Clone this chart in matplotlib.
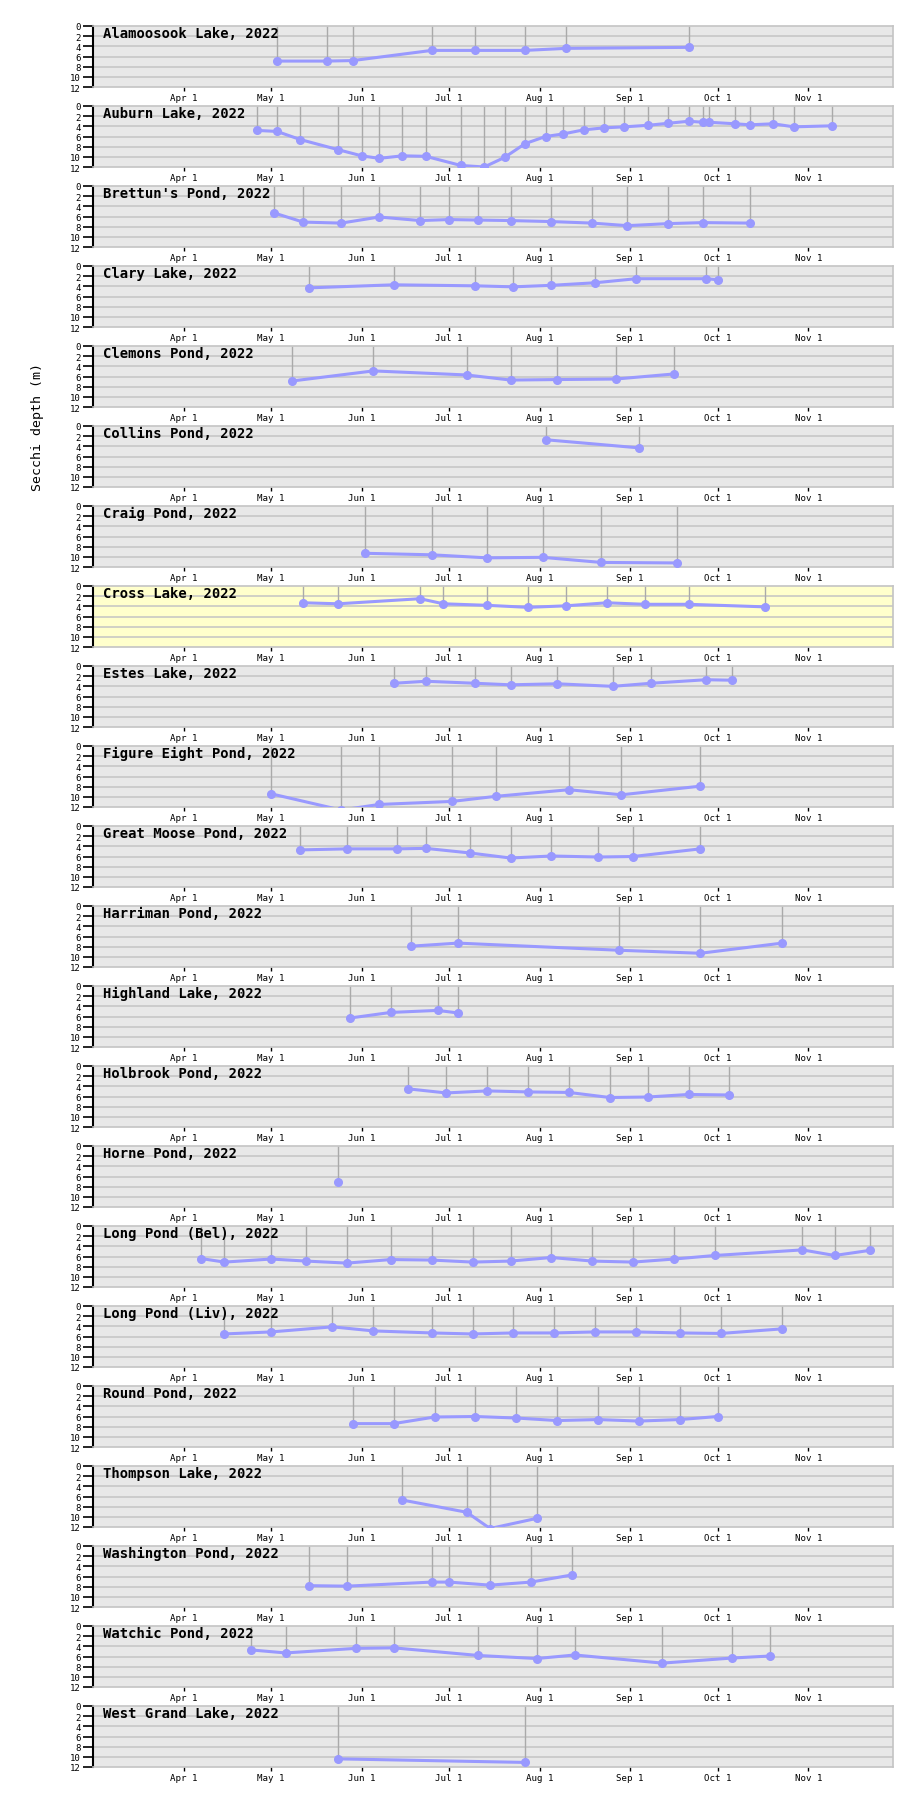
import matplotlib
matplotlib.use("Agg")
import matplotlib.pyplot as plt
import pandas as pd

# Secchi depth (m) readings, 2022, one list of dates + depths per lake
lakes = [
    "Alamoosook Lake", "Auburn Lake", "Brettun's Pond", "Clary Lake",
    "Clemons Pond", "Collins Pond", "Craig Pond", "Cross Lake", "Estes Lake",
    "Figure Eight Pond", "Great Moose Pond", "Harriman Pond", "Highland Lake",
    "Holbrook Pond", "Horne Pond", "Long Pond (Bel)", "Long Pond (Liv)",
    "Round Pond", "Thompson Lake", "Washington Pond", "Watchic Pond",
    "West Grand Lake",
]

alamoosook_dates = ["05-03", "05-20", "05-29", "06-25", "07-10", "07-27", "08-10", "09-21"]
alamoosook_depth = [6.9, 6.9, 6.8, 4.8, 4.8, 4.8, 4.4, 4.2]

auburn_dates = ["04-26", "05-03", "05-11", "05-24", "06-01", "06-07", "06-15", "06-23",
                "07-05", "07-13", "07-20", "07-27", "08-03", "08-09", "08-16", "08-23",
                "08-30", "09-07", "09-14", "09-21", "09-26", "09-28", "10-07", "10-12",
                "10-20", "10-27", "11-09"]
auburn_depth = [4.8, 5.0, 6.6, 8.6, 9.8, 10.3, 9.8, 9.9, 11.7, 12.0, 10.1, 7.4, 6.0, 5.5,
                4.7, 4.3, 4.1, 3.8, 3.4, 3.0, 3.2, 3.2, 3.5, 3.7, 3.5, 4.1, 3.9]

brettun_dates = ["05-02", "05-12", "05-25", "06-07", "06-21", "07-01", "07-11", "07-22",
                 "08-05", "08-19", "08-31", "09-14", "09-26", "10-12"]
brettun_depth = [5.3, 7.1, 7.3, 6.1, 6.8, 6.6, 6.7, 6.8, 7.0, 7.3, 7.8, 7.4, 7.2, 7.3]

clary_dates = ["05-14", "06-12", "07-10", "07-23", "08-05", "08-20", "09-03", "09-27", "10-01"]
clary_depth = [4.3, 3.7, 3.9, 4.1, 3.8, 3.3, 2.5, 2.5, 2.7]

clemons_dates = ["05-08", "06-05", "07-07", "07-22", "08-07", "08-27", "09-16"]
clemons_depth = [6.9, 4.9, 5.7, 6.7, 6.6, 6.5, 5.5]

collins_dates = ["08-03", "09-04"]
collins_depth = [2.7, 4.3]

craig_dates = ["06-02", "06-25", "07-14", "08-02", "08-22", "09-17"]
craig_depth = [9.3, 9.6, 10.2, 10.1, 11.1, 11.2]

cross_dates = ["05-12", "05-24", "06-21", "06-29", "07-14", "07-28", "08-10", "08-24",
               "09-06", "09-21", "10-17"]
cross_depth = [3.3, 3.5, 2.5, 3.5, 3.8, 4.2, 3.9, 3.3, 3.6, 3.6, 4.1]

estes_dates = ["06-12", "06-23", "07-10", "07-22", "08-07", "08-26", "09-08", "09-27", "10-06"]
estes_depth = [3.4, 3.0, 3.4, 3.7, 3.5, 4.0, 3.4, 2.7, 2.8]

figure8_dates = ["05-01", "05-25", "06-07", "07-02", "07-17", "08-11", "08-29", "09-25"]
figure8_depth = [9.4, 12.6, 11.5, 10.9, 9.9, 8.6, 9.6, 7.9]

greatmoose_dates = ["05-11", "05-27", "06-13", "06-23", "07-08", "07-22", "08-05", "08-21",
                    "09-02", "09-25"]
greatmoose_depth = [4.7, 4.5, 4.5, 4.4, 5.3, 6.3, 5.9, 6.1, 6.0, 4.5]

harriman_dates = ["06-18", "07-04", "08-28", "09-25", "10-23"]
harriman_depth = [7.9, 7.3, 8.7, 9.3, 7.3]

highland_dates = ["05-28", "06-11", "06-27", "07-04"]
highland_depth = [6.3, 5.2, 4.8, 5.3]

holbrook_dates = ["06-17", "06-30", "07-14", "07-28", "08-11", "08-25", "09-07", "09-21", "10-05"]
holbrook_depth = [4.5, 5.3, 4.9, 5.1, 5.2, 6.2, 6.1, 5.6, 5.7]

horne_dates = ["05-24"]
horne_depth = [7.0]

longbel_dates = ["04-07", "04-15", "05-01", "05-13", "05-27", "06-11", "06-25", "07-09",
                 "07-22", "08-05", "08-19", "09-02", "09-16", "09-30", "10-30", "11-10", "11-22"]
longbel_depth = [6.4, 7.1, 6.5, 6.9, 7.3, 6.6, 6.7, 7.1, 6.9, 6.2, 6.9, 7.1, 6.5, 5.8,
                 4.7, 5.8, 4.8]

longliv_dates = ["04-15", "05-01", "05-22", "06-05", "06-25", "07-09", "07-23", "08-06",
                 "08-20", "09-03", "09-18", "10-02", "10-23"]
longliv_depth = [5.5, 5.1, 4.1, 4.9, 5.3, 5.5, 5.3, 5.3, 5.1, 5.1, 5.3, 5.4, 4.5]

round_dates = ["05-29", "06-12", "06-26", "07-10", "07-24", "08-07", "08-21", "09-04",
               "09-18", "10-01"]
round_depth = [7.4, 7.4, 6.1, 6.0, 6.3, 6.8, 6.6, 6.9, 6.6, 6.0]

thompson_dates = ["06-15", "07-07", "07-15", "07-31"]
thompson_depth = [6.7, 9.1, 12.3, 10.3]

washington_dates = ["05-14", "05-27", "06-25", "07-01", "07-15", "07-29", "08-12"]
washington_depth = [7.8, 7.9, 7.1, 7.1, 7.7, 7.1, 5.7]

watchic_dates = ["04-24", "05-06", "05-30", "06-12", "07-11", "07-31", "08-13", "09-12",
                 "10-06", "10-19"]
watchic_depth = [4.7, 5.3, 4.4, 4.3, 5.8, 6.4, 5.7, 7.3, 6.3, 5.9]

westgrand_dates = ["05-24", "07-27"]
westgrand_depth = [10.4, 11.1]

all_dates = [alamoosook_dates, auburn_dates, brettun_dates, clary_dates, clemons_dates,
             collins_dates, craig_dates, cross_dates, estes_dates, figure8_dates,
             greatmoose_dates, harriman_dates, highland_dates, holbrook_dates, horne_dates,
             longbel_dates, longliv_dates, round_dates, thompson_dates, washington_dates,
             watchic_dates, westgrand_dates]
all_depths = [alamoosook_depth, auburn_depth, brettun_depth, clary_depth, clemons_depth,
              collins_depth, craig_depth, cross_depth, estes_depth, figure8_depth,
              greatmoose_depth, harriman_depth, highland_depth, holbrook_depth, horne_depth,
              longbel_depth, longliv_depth, round_depth, thompson_depth, washington_depth,
              watchic_depth, westgrand_depth]

highlight = "Cross Lake"
year = 2022
tick_dates = ["04-01", "05-01", "06-01", "07-01", "08-01", "09-01", "10-01", "11-01"]
tick_labels = ["Apr 1", "May 1", "Jun 1", "Jul 1", "Aug 1", "Sep 1", "Oct 1", "Nov 1"]
yticks = [0, 2, 4, 6, 8, 10, 12]

W, H = 912, 1799
fig = plt.figure(figsize=(W / 100, H / 100), dpi=100)

mono = "DejaVu Sans Mono"
x0 = pd.Timestamp(f"{year}-03-01")
x1 = pd.Timestamp(f"{year}-11-30")
ticks = pd.to_datetime([f"{year}-{d}" for d in tick_dates])

for i, name in enumerate(lakes):
    top = 27 + 80 * i
    ax = fig.add_axes([93 / W, 1 - (top + 61) / H, 800 / W, 61 / H])
    ax.set_facecolor("#ffffcc" if name == highlight else "#e8e8e8")

    d = pd.to_datetime([f"{year}-{s}" for s in all_dates[i]])
    v = all_depths[i]

    for y in yticks[1:-1]:
        ax.axhline(y, color="#c4c4c4", lw=1.1, zorder=1)
    ax.vlines(d, 0, v, color="#aaaaaa", lw=1, zorder=2)
    ax.plot(d, v, color="#9999ff", lw=2.2, marker="o", ms=5.5, zorder=3)

    ax.set_xlim(x0, x1)
    ax.set_ylim(12, 0)
    ax.set_yticks(yticks)
    ax.set_yticklabels([str(t) for t in yticks], fontsize=6.5, family=mono)
    ax.set_xticks(ticks)
    ax.set_xticklabels(tick_labels, fontsize=6.6, family=mono)
    ax.tick_params(axis="y", length=7, width=1.2, color="black", pad=2)
    ax.tick_params(axis="x", length=3, width=1, color="black", pad=1)

    for s in ["top", "right", "bottom"]:
        ax.spines[s].set_color("#c4c4c4")
        ax.spines[s].set_linewidth(1.2)
    ax.spines["left"].set_color("black")
    ax.spines["left"].set_linewidth(1.5)

    ax.text(0.012, 1.0, f"{name}, {year}", transform=ax.transAxes, ha="left",
            va="top", fontsize=10, fontweight="bold", family=mono, zorder=5)

fig.text(38 / W, 1 - 427 / H, "Secchi depth (m)", rotation=90, ha="center",
         va="center", fontsize=9.5, family=mono)

fig.savefig("out.png", dpi=100)
